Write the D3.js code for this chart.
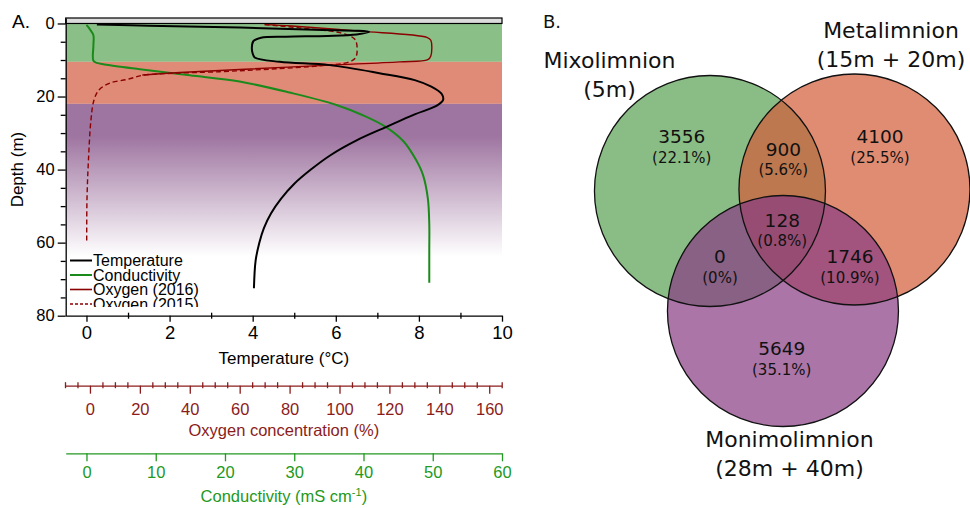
<!DOCTYPE html>
<html>
<head>
<meta charset="utf-8">
<script src="https://cdn.jsdelivr.net/npm/d3@7"></script>
<style>
  body { margin: 0; background: #fff; }
  svg { display: block; }
  text { font-family: "Liberation Sans", Arial, sans-serif; }
  .venn text { font-family: "DejaVu Sans", Verdana, sans-serif; }
</style>
</head>
<body>
<svg id="chart" width="970" height="508"></svg>
<script>
// profiles as [value, depth (m)]
const temperature = [
  [0.25, 0.3], [1.5, 0.6], [3.7, 1.1], [5.5, 1.7], [6.8, 2.3], [6.5, 3.0], [5.8, 3.4], [4.8, 3.6],
  [4.2, 3.9], [4.02, 4.8], [3.98, 6.5], [4.0, 8.2], [4.05, 9.3], [4.65, 10.5], [5.85, 11.4],
  [7.05, 13.6], [7.9, 15.5], [8.3, 17.3], [8.55, 19.3], [8.58, 21], [8.43, 22.5], [7.87, 25],
  [7.22, 28.3], [6.5, 32], [5.88, 36], [5.4, 40], [4.99, 44], [4.68, 48], [4.44, 52], [4.27, 56],
  [4.16, 60], [4.07, 65], [4.03, 72.5]
];
const conductivity = [
  [0, 0.4], [0.5, 1.6], [1.0, 3.2], [1.0, 6], [1.0, 10.2], [1.5, 10.8], [2.6, 11.2], [7.7, 12.5],
  [14.9, 14.2], [22.1, 15.9], [29.3, 18.9], [36.1, 22.3], [40, 25.2], [43.2, 28.3], [45.8, 32.3],
  [47.6, 37.4], [48.6, 41.5], [49.3, 48], [49.5, 55], [49.5, 62], [49.5, 71]
];
const oxygen2016 = [
  [70, 0.3], [81, 0.7], [108, 2.1], [135, 3.8], [136.6, 4.6], [136.6, 8.9], [135.4, 9.9], [124, 10.5],
  [96, 11.4], [60, 12.6], [36, 13.4], [21, 14.1]
];
const oxygen2015 = [
  [70, 0.3], [84, 1.2], [100, 2.5], [105, 3.7], [106.6, 4.8], [106.6, 9.2], [104, 10.5], [92, 11.6],
  [72, 12.5], [52, 13.2], [28, 13.8], [21, 14.2], [15, 15.3], [8, 16.3], [3.6, 18.2], [1.6, 21],
  [0.4, 26.4], [-0.6, 37.4], [-1.2, 48.4], [-1.3, 60.1]
];
const zoneDepths = [0, 10.5, 22, 80];
const depthTicks = [0, 20, 40, 60, 80];
const tempTicks = [0, 2, 4, 6, 8, 10];
const oxygenTicks = [0, 20, 40, 60, 80, 100, 120, 140, 160];
const condTicks = [0, 10, 20, 30, 40, 50, 60];
const legendLabels = ['Temperature', 'Conductivity', 'Oxygen (2016)', 'Oxygen (2015)'];

// panel B
const vennSets = ['Mixolimnion', 'Metalimnion', 'Monimolimnion'];
const vennSetDepths = ['(5m)', '(15m + 20m)', '(28m + 40m)'];
const vennCounts = [3556, 900, 4100, 0, 128, 1746, 5649];
const vennPercents = ['(22.1%)', '(5.6%)', '(25.5%)', '(0%)', '(0.8%)', '(10.9%)', '(35.1%)'];

const svg = d3.select('#chart');
const black = '#000';
const red = '#8b0000';
const redAxis = '#8b1c1c';
const green = '#1a8a1a';
const greenAxis = '#229922';

const yDepth = d3.scaleLinear().domain([-1.5, 80]).range([18, 315.7]);
const xTemp = d3.scaleLinear().domain([-0.5, 10]).range([65.7, 502]);
const xCond = d3.scaleLinear().domain([-3, 60]).range([65.7, 502]);
const xOxy = d3.scaleLinear().domain([-10, 165]).range([65, 501.7]);

// background zones
const defs = svg.append('defs');
const grad = defs.append('linearGradient').attr('id', 'mono').attr('x1', 0).attr('x2', 0).attr('y1', 0).attr('y2', 1);
grad.append('stop').attr('offset', 0).attr('stop-color', '#9e74a0');
grad.append('stop').attr('offset', 0.15).attr('stop-color', '#9e74a0');
grad.append('stop').attr('offset', 0.72).attr('stop-color', '#fff');
grad.append('stop').attr('offset', 1).attr('stop-color', '#fff');

const zoneFills = ['#8bbf88', '#df8b77', 'url(#mono)'];
svg.append('g').selectAll('rect')
  .data(zoneFills)
  .join('rect')
  .attr('x', xTemp(-0.5))
  .attr('width', xTemp(10) - xTemp(-0.5))
  .attr('y', (d, i) => yDepth(zoneDepths[i]))
  .attr('height', (d, i) => yDepth(zoneDepths[i + 1]) - yDepth(zoneDepths[i]))
  .attr('fill', d => d);

svg.append('rect')
  .attr('x', xTemp(-0.5)).attr('width', xTemp(10) - xTemp(-0.5))
  .attr('y', yDepth(-1.5)).attr('height', yDepth(0) - yDepth(-1.5))
  .attr('fill', '#dcdcdc').attr('stroke', black).attr('stroke-width', 1.2);

// profiles
const line = (xs) => d3.line().x(d => xs(d[0])).y(d => yDepth(d[1])).curve(d3.curveCatmullRom.alpha(0.5));
const curves = [
  { data: conductivity, x: xCond, color: green, width: 2, dash: null },
  { data: oxygen2015, x: xOxy, color: red, width: 1.4, dash: '5,3' },
  { data: oxygen2016, x: xOxy, color: red, width: 1.4, dash: null },
  { data: temperature, x: xTemp, color: black, width: 2, dash: null }
];
curves.forEach(c => {
  svg.append('path')
    .datum(c.data)
    .attr('fill', 'none')
    .attr('stroke', c.color)
    .attr('stroke-width', c.width)
    .attr('stroke-dasharray', c.dash)
    .attr('stroke-linejoin', 'round')
    .attr('d', line(c.x));
});

// legend (bottom clipped by the plot edge like the original)
defs.append('clipPath').attr('id', 'legclip')
  .append('rect').attr('x', 60).attr('y', 240).attr('width', 200).attr('height', 67);
const legendStyles = [[black, 2, null], [green, 2, null], [red, 1.6, null], [red, 1.4, '3,2']];
const legend = svg.append('g').attr('clip-path', 'url(#legclip)');
legendLabels.forEach((label, i) => {
  const y = 260.5 + i * 14.5;
  legend.append('line')
    .attr('x1', 70).attr('x2', 92).attr('y1', y).attr('y2', y)
    .attr('stroke', legendStyles[i][0]).attr('stroke-width', legendStyles[i][1])
    .attr('stroke-dasharray', legendStyles[i][2]);
  legend.append('text')
    .attr('x', 93).attr('y', y + 5.5)
    .attr('font-size', 16).attr('fill', black)
    .text(label);
});

// axes
function styleAxis(g, color, fontSize) {
  g.selectAll('path.domain').attr('stroke', color).attr('stroke-width', 1.3);
  g.selectAll('.tick line').attr('stroke', color).attr('stroke-width', 1.3);
  g.selectAll('.tick text').attr('fill', color).attr('font-size', fontSize)
    .attr('font-family', '"Liberation Sans", Arial, sans-serif');
}

const yAxis = svg.append('g').attr('transform', `translate(${xTemp(-0.5)},0)`)
  .call(d3.axisLeft(yDepth).tickValues(depthTicks).tickSize(8).tickSizeOuter(0).tickPadding(3));
styleAxis(yAxis, black, 16.5);
svg.append('g').attr('transform', `translate(${xTemp(-0.5)},0)`)
  .call(d3.axisLeft(yDepth).tickValues(d3.range(5, 80, 5).filter(v => v % 20)).tickSize(5).tickSizeOuter(0).tickFormat(''))
  .call(g => g.select('.domain').remove())
  .call(g => styleAxis(g, black, 0));

const tAxis = svg.append('g').attr('transform', `translate(0,${yDepth(80)})`)
  .call(d3.axisBottom(xTemp).tickValues(tempTicks).tickSize(6).tickSizeOuter(0).tickPadding(4));
styleAxis(tAxis, black, 18.5);
svg.append('g').attr('transform', `translate(0,${yDepth(80) - 3})`)
  .call(d3.axisBottom(xTemp).tickValues([1, 3, 5, 7, 9]).tickSize(6).tickFormat(''))
  .call(g => g.select('.domain').remove())
  .call(g => styleAxis(g, black, 0));

const oAxisY = 385.7;
const oAxis = svg.append('g').attr('transform', `translate(0,${oAxisY})`)
  .call(d3.axisBottom(xOxy).tickValues(oxygenTicks).tickSize(8).tickSizeOuter(0).tickPadding(10));
styleAxis(oAxis, redAxis, 16.5);
svg.append('g').attr('transform', `translate(0,${oAxisY - 3.5})`)
  .call(d3.axisBottom(xOxy).tickValues(d3.range(-10, 166, 5).filter(v => v % 20)).tickSize(6).tickFormat(''))
  .call(g => g.select('.domain').remove())
  .call(g => styleAxis(g, redAxis, 0));

const cAxisY = 453.3;
const cAxis = svg.append('g').attr('transform', `translate(0,${cAxisY})`)
  .call(d3.axisBottom(xCond).tickValues(condTicks).tickSize(8).tickSizeOuter(0).tickPadding(5));
styleAxis(cAxis, greenAxis, 16.5);

const midX = (xTemp(-0.5) + xTemp(10)) / 2;
svg.append('text').attr('x', midX).attr('y', 364).attr('text-anchor', 'middle')
  .attr('font-size', 17).attr('fill', black).text('Temperature (°C)');
svg.append('text').attr('x', midX).attr('y', 435.5).attr('text-anchor', 'middle')
  .attr('font-size', 16.5).attr('fill', redAxis).text('Oxygen concentration (%)');
const condTitle = svg.append('text').attr('x', midX).attr('y', 502).attr('text-anchor', 'middle')
  .attr('font-size', 16.5).attr('fill', greenAxis);
condTitle.append('tspan').text('Conductivity (mS cm');
condTitle.append('tspan').attr('font-size', 11).attr('dy', -6).text('-1');
condTitle.append('tspan').attr('dy', 6).text(')');

svg.append('text').attr('transform', `translate(23,${(yDepth(0) + yDepth(80)) / 2}) rotate(-90)`)
  .attr('text-anchor', 'middle').attr('font-size', 17).attr('fill', black).text('Depth (m)');
svg.append('text').attr('x', 12).attr('y', 28).attr('font-size', 19).attr('fill', black).text('A.');

// panel B: Venn layout in units of circle radius
const vx = d3.scaleLinear().domain([-1, 1]).range([782.5 - 115.5, 782.5 + 115.5]);
const vy = d3.scaleLinear().domain([-1, 1]).range([230.5 - 115.5, 230.5 + 115.5]);
const vennCenters = [[-0.628, -0.342], [0.623, -0.355], [0.004, 0.697]];
const vennFills = ['#58a151', '#d35b38', '#873b83'];
const regionPos = [[-0.872, -0.812], [0.007, -0.706], [0.844, -0.812], [-0.541, 0.227],
  [-0.002, -0.091], [0.584, 0.227], [-0.007, 1.02]];

const venn = svg.append('g').attr('class', 'venn');
venn.selectAll('circle.fill')
  .data(vennCenters)
  .join('circle')
  .attr('class', 'fill')
  .attr('cx', d => vx(d[0])).attr('cy', d => vy(d[1]))
  .attr('r', vx(1) - vx(0))
  .attr('fill', (d, i) => vennFills[i]).attr('fill-opacity', 0.7);
venn.selectAll('circle.edge')
  .data(vennCenters)
  .join('circle')
  .attr('class', 'edge')
  .attr('cx', d => vx(d[0])).attr('cy', d => vy(d[1]))
  .attr('r', vx(1) - vx(0))
  .attr('fill', 'none').attr('stroke', '#111').attr('stroke-width', 1.3);

venn.selectAll('text.count')
  .data(vennCounts)
  .join('text')
  .attr('class', 'count')
  .attr('x', (d, i) => vx(regionPos[i][0])).attr('y', (d, i) => vy(regionPos[i][1]) + 6.7)
  .attr('text-anchor', 'middle').attr('font-size', 18.5).attr('fill', '#111')
  .text(d => d);
venn.selectAll('text.pct')
  .data(vennPercents)
  .join('text')
  .attr('class', 'pct')
  .attr('x', (d, i) => vx(regionPos[i][0])).attr('y', (d, i) => vy(regionPos[i][1]) + 26.5)
  .attr('text-anchor', 'middle').attr('font-size', 15).attr('fill', '#111')
  .text(d => d);

const setLabelPos = [[609.5, 67.5], [891, 37.5], [789.5, 446.7]];
vennSets.forEach((name, i) => {
  venn.append('text').attr('x', setLabelPos[i][0]).attr('y', setLabelPos[i][1])
    .attr('text-anchor', 'middle').attr('font-size', 22).attr('fill', '#111').text(name);
  venn.append('text').attr('x', setLabelPos[i][0]).attr('y', setLabelPos[i][1] + 29.5)
    .attr('text-anchor', 'middle').attr('font-size', 22).attr('fill', '#111').text(vennSetDepths[i]);
});
venn.append('text').attr('x', 543).attr('y', 28).attr('font-size', 18).attr('fill', '#111').text('B.');
</script>
</body>
</html>
